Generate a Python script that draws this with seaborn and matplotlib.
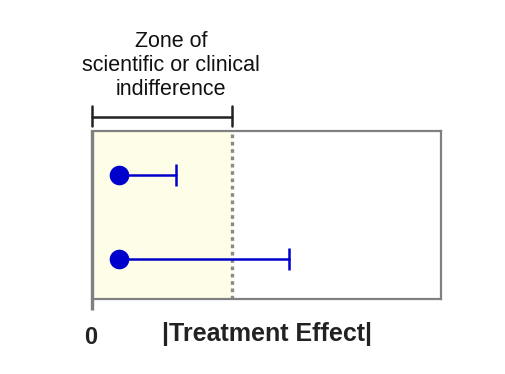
import matplotlib
matplotlib.use("Agg")
import matplotlib.pyplot as plt
import seaborn as sns
import pandas as pd

sns.set_theme(style="white")
plt.rcParams['font.family'] = ['Liberation Sans', 'DejaVu Sans']

# data
studies = ["Study A", "Study B"]
y_pos = [0.74, 0.24]
estimates = [0.77, 0.77]
upper = [2.42, 5.65]
zone_limit = 4.0
x_max = 10.0

df = pd.DataFrame({"study": studies, "y": y_pos, "est": estimates, "upper": upper})

fig = plt.figure(figsize=(5.06, 3.74), dpi=100)
ax = fig.add_axes([92/506, 1-299/374, 349/506, 168/374])
ax.set_xlim(0, x_max)
ax.set_ylim(0, 1)

ax.axvspan(0, zone_limit, color='#FEFEE8', zorder=0)
ax.axvline(zone_limit, color='#8A8A8A', lw=2.4, ls=(0, (1.1, 1.1)), zorder=1)

for _, r in df.iterrows():
    ax.plot([r.est, r.upper], [r.y, r.y], color='#0000CC', lw=1.8, zorder=2)
    ax.plot([r.upper], [r.y], marker='|', markersize=16, markeredgewidth=1.8,
            color='#0000CC', zorder=2)
sns.scatterplot(data=df, x="est", y="y", ax=ax, color='#0000CC', s=200,
                edgecolor='#0000CC', linewidth=0, zorder=3, legend=False)

ax.set_xticks([])
ax.set_yticks([])
ax.set_xlabel("")
ax.set_ylabel("")
for s in ["top", "right", "bottom"]:
    ax.spines[s].set_color('#808080')
    ax.spines[s].set_linewidth(1.6)
ax.spines["left"].set_visible(False)
ax.plot([0, 0], [-0.065, 1.0], transform=ax.get_yaxis_transform(), color='#808080',
        lw=2.4, clip_on=False, solid_capstyle='butt', zorder=4)

# bracket
yb = 1.085
ax.plot([0, zone_limit], [yb, yb], color='#222222', lw=1.8, clip_on=False)
ax.plot([0, 0], [yb - 0.055, yb + 0.065], color='#222222', lw=1.8, clip_on=False)
ax.plot([zone_limit, zone_limit], [yb - 0.055, yb + 0.065], color='#222222', lw=1.8, clip_on=False)

fig.text(171/506, 1-65.5/374, "Zone of\nscientific or clinical\nindifference", ha='center',
         va='center', fontsize=15.5, color='#111111', linespacing=1.17)
fig.text(91/506, 1-338/374, "0", ha='center', va='center', fontsize=17,
         fontweight='bold', color='#222222')
fig.text(267/506, 1-334/374, "|Treatment Effect|", ha='center', va='center',
         fontsize=18, fontweight='bold', color='#222222')

fig.savefig("out.png", dpi=100)
